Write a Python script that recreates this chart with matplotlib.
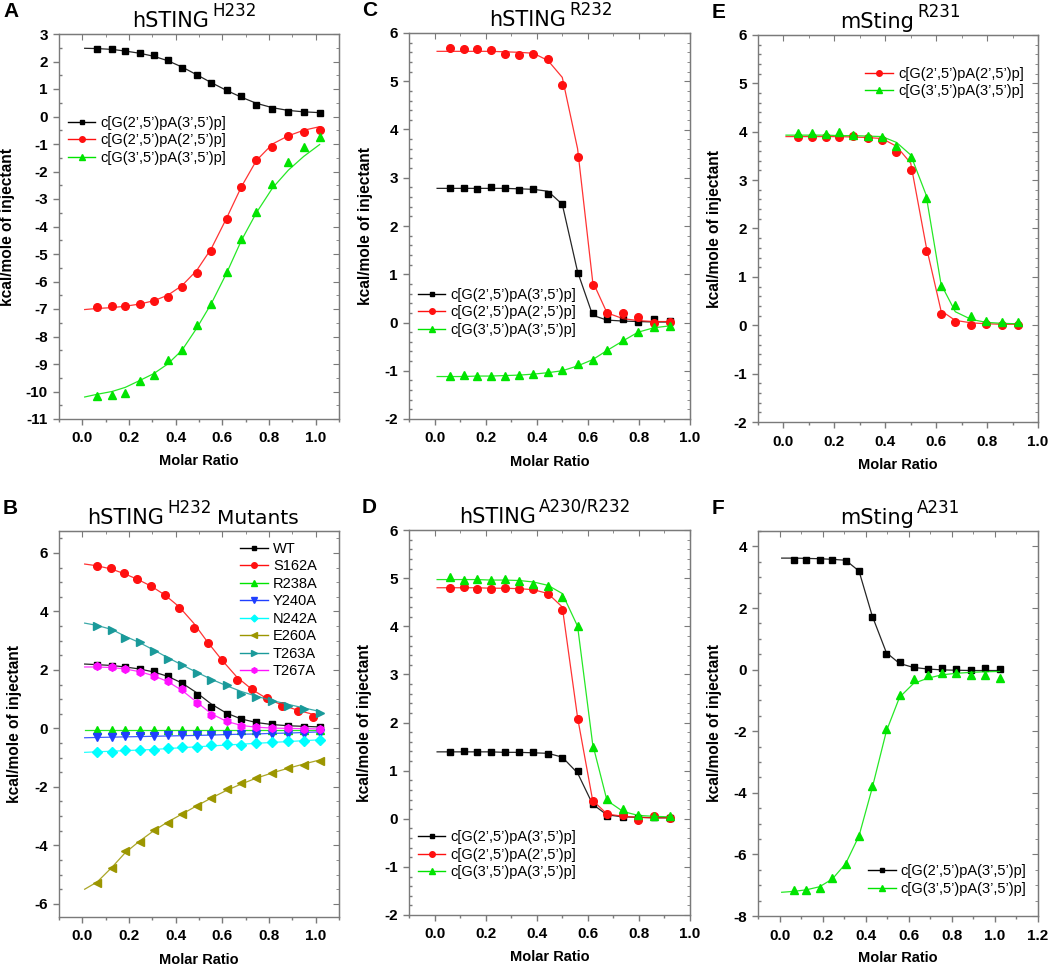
import numpy as np
import matplotlib
matplotlib.use("Agg")
import matplotlib.pyplot as plt
from matplotlib.ticker import MultipleLocator
from matplotlib.transforms import offset_copy

plt.rcParams['font.family'] = ['Liberation Sans', 'DejaVu Sans']
plt.rcParams['axes.unicode_minus'] = False

# ---- panel A : hSTING H232 ----
xa = [0.064, 0.127, 0.184, 0.246, 0.306, 0.366, 0.427, 0.490, 0.553, 0.618,
      0.682, 0.746, 0.815, 0.883, 0.949, 1.017]
xa_fit = [0.01] + xa
a_k = [2.47, 2.45, 2.38, 2.31, 2.22, 2.04, 1.76, 1.51, 1.23, 0.96, 0.73, 0.42, 0.28, 0.16, 0.15, 0.13]
a_r = [-6.93, -6.89, -6.89, -6.82, -6.72, -6.58, -6.20, -5.70, -4.88, -3.73, -2.55, -1.57, -1.10, -0.72, -0.55, -0.50]
a_g = [-10.15, -10.12, -10.05, -9.63, -9.41, -8.87, -8.50, -7.57, -6.82, -5.67, -4.45, -3.46, -2.45, -1.67, -1.12, -0.76]
a_k_fit = [2.48, 2.47, 2.44, 2.38, 2.30, 2.19, 2.03, 1.80, 1.52, 1.23, 0.95, 0.70, 0.48, 0.32, 0.22, 0.17, 0.14]
a_r_fit = [-7.02, -6.98, -6.95, -6.90, -6.82, -6.70, -6.50, -6.15, -5.60, -4.80, -3.70, -2.55, -1.60, -1.00, -0.70, -0.50, -0.37]
a_g_fit = [-10.20, -10.10, -10.00, -9.85, -9.60, -9.35, -9.00, -8.50, -7.70, -6.80, -5.70, -4.50, -3.50, -2.60, -1.95, -1.45, -1.02]

# ---- panel B : hSTING H232 mutants ----
xb = xa
xb_fit = [0.01] + xb
xb_s = [0.064, 0.124, 0.177, 0.236, 0.296, 0.356, 0.416, 0.477, 0.537, 0.600,
        0.663, 0.729, 0.791, 0.856, 0.923, 0.989]
xb_s_fit = [0.01] + xb_s
b_names = ['WT', 'S162A', 'R238A', 'Y240A', 'N242A', 'E260A', 'T263A', 'T267A']
b_wt = [2.16, 2.12, 2.09, 2.04, 1.97, 1.79, 1.55, 1.15, 0.72, 0.49, 0.31, 0.22, 0.16, 0.09, 0.05, 0.05]
b_s162 = [5.54, 5.48, 5.30, 5.11, 4.86, 4.56, 4.13, 3.42, 2.92, 2.34, 1.64, 1.35, 1.03, 0.75, 0.60, 0.40]
b_r238 = [-0.05, -0.06, -0.05, -0.05, -0.05, -0.06, -0.05, -0.06, -0.06, -0.05, -0.06, -0.05, -0.06, -0.05, -0.06, -0.05]
b_y240 = [-0.31, -0.31, -0.27, -0.27, -0.27, -0.24, -0.23, -0.24, -0.22, -0.22, -0.19, -0.19, -0.18, -0.18, -0.18, -0.16]
b_n242 = [-0.80, -0.82, -0.73, -0.75, -0.73, -0.67, -0.63, -0.62, -0.56, -0.54, -0.57, -0.50, -0.48, -0.44, -0.42, -0.39]
b_e260 = [-5.29, -4.78, -4.21, -3.87, -3.47, -3.24, -2.93, -2.64, -2.38, -2.08, -1.87, -1.70, -1.51, -1.36, -1.24, -1.11]
b_t263 = [3.51, 3.38, 3.10, 2.94, 2.65, 2.38, 2.17, 1.89, 1.67, 1.47, 1.19, 1.07, 0.94, 0.75, 0.68, 0.52]
b_t267 = [2.12, 2.10, 2.03, 1.92, 1.78, 1.62, 1.35, 0.87, 0.46, 0.24, 0.09, 0.05, 0.01, 0.00, -0.01, -0.02]
b_wt_fit = [2.20, 2.18, 2.15, 2.10, 2.03, 1.93, 1.78, 1.55, 1.22, 0.83, 0.52, 0.32, 0.20, 0.13, 0.09, 0.07, 0.05]
b_s162_fit = [5.62, 5.56, 5.45, 5.30, 5.10, 4.86, 4.55, 4.15, 3.60, 2.95, 2.32, 1.75, 1.32, 1.02, 0.80, 0.62, 0.48]
b_r238_fit = [-0.06, -0.06, -0.06, -0.06, -0.06, -0.06, -0.06, -0.06, -0.06, -0.06, -0.06, -0.06, -0.06, -0.06, -0.06, -0.06, -0.06]
b_y240_fit = [-0.32, -0.31, -0.30, -0.29, -0.28, -0.27, -0.26, -0.25, -0.24, -0.23, -0.21, -0.20, -0.19, -0.17, -0.16, -0.14, -0.12]
b_n242_fit = [-0.82, -0.80, -0.78, -0.76, -0.74, -0.72, -0.69, -0.66, -0.63, -0.60, -0.57, -0.54, -0.51, -0.48, -0.45, -0.42, -0.39]
b_e260_fit = [-5.50, -5.25, -4.75, -4.25, -3.85, -3.50, -3.20, -2.93, -2.65, -2.38, -2.12, -1.90, -1.70, -1.52, -1.36, -1.22, -1.08]
b_t263_fit = [3.60, 3.52, 3.38, 3.15, 2.93, 2.68, 2.42, 2.17, 1.92, 1.68, 1.46, 1.26, 1.10, 0.95, 0.82, 0.70, 0.58]
b_t267_fit = [2.10, 2.10, 2.08, 2.03, 1.94, 1.80, 1.60, 1.30, 0.90, 0.50, 0.24, 0.10, 0.04, 0.01, 0.00, -0.01, -0.02]

# ---- panels C, D, E : shared molar ratios ----
xc = [0.059, 0.114, 0.166, 0.220, 0.275, 0.332, 0.387, 0.444, 0.500, 0.560,
      0.619, 0.675, 0.738, 0.797, 0.858, 0.920]
xc_fit = [0.01] + xc

c_k = [2.79, 2.79, 2.77, 2.80, 2.79, 2.75, 2.76, 2.66, 2.46, 1.03, 0.20, 0.07, 0.08, 0.01, 0.07, 0.03]
c_r = [5.69, 5.67, 5.66, 5.64, 5.57, 5.54, 5.57, 5.46, 4.93, 3.42, 0.77, 0.19, 0.19, 0.12, -0.01, 0.01]
c_g = [-1.11, -1.09, -1.11, -1.10, -1.10, -1.08, -1.06, -1.03, -0.99, -0.87, -0.78, -0.58, -0.36, -0.19, -0.10, -0.07]
c_k_fit = [2.78, 2.78, 2.78, 2.78, 2.78, 2.78, 2.77, 2.76, 2.72, 2.45, 1.05, 0.15, 0.05, 0.03, 0.02, 0.01, 0.01]
c_r_fit = [5.62, 5.62, 5.62, 5.62, 5.62, 5.61, 5.60, 5.58, 5.43, 5.08, 3.60, 0.85, 0.20, 0.08, 0.04, 0.02, 0.02]
c_g_fit = [-1.12, -1.12, -1.12, -1.11, -1.11, -1.10, -1.09, -1.07, -1.04, -1.00, -0.90, -0.77, -0.58, -0.38, -0.20, -0.11, -0.07]

d_k = [1.39, 1.41, 1.39, 1.38, 1.38, 1.38, 1.38, 1.34, 1.27, 0.99, 0.31, 0.06, 0.03, 0.01, 0.03, 0.01]
d_r = [4.80, 4.81, 4.77, 4.78, 4.79, 4.77, 4.77, 4.67, 4.34, 2.08, 0.36, 0.10, 0.08, -0.02, 0.05, 0.02]
d_g = [5.02, 4.96, 4.99, 4.96, 4.99, 4.93, 4.88, 4.84, 4.60, 4.00, 1.50, 0.42, 0.21, 0.08, 0.06, 0.06]
d_k_fit = [1.39, 1.39, 1.39, 1.39, 1.39, 1.38, 1.38, 1.37, 1.36, 1.28, 0.95, 0.30, 0.08, 0.04, 0.03, 0.02, 0.02]
d_r_fit = [4.80, 4.80, 4.80, 4.80, 4.79, 4.79, 4.78, 4.76, 4.68, 4.40, 2.10, 0.38, 0.10, 0.05, 0.03, 0.02, 0.02]
d_g_fit = [4.97, 4.97, 4.97, 4.97, 4.96, 4.96, 4.95, 4.92, 4.85, 4.68, 4.00, 1.55, 0.38, 0.15, 0.07, 0.05, 0.04]

e_r = [3.90, 3.90, 3.89, 3.90, 3.91, 3.87, 3.82, 3.59, 3.20, 1.53, 0.24, 0.07, 0.00, 0.03, 0.00, 0.00]
e_g = [3.97, 3.98, 3.95, 4.00, 3.93, 3.91, 3.90, 3.71, 3.47, 2.64, 0.82, 0.41, 0.19, 0.09, 0.07, 0.06]
e_r_fit = [3.90, 3.90, 3.90, 3.90, 3.90, 3.89, 3.88, 3.86, 3.70, 3.35, 1.65, 0.30, 0.10, 0.05, 0.03, 0.02, 0.02]
e_g_fit = [3.93, 3.93, 3.93, 3.93, 3.92, 3.92, 3.91, 3.90, 3.78, 3.52, 2.70, 0.85, 0.28, 0.12, 0.06, 0.04, 0.03]

# ---- panel F : mSting A231 ----
xf = [0.067, 0.124, 0.186, 0.245, 0.307, 0.369, 0.430, 0.496, 0.557, 0.622,
      0.688, 0.754, 0.821, 0.887, 0.954, 1.022]
xf_fit = [0.01] + xf
f_k = [3.56, 3.57, 3.55, 3.56, 3.51, 3.19, 1.70, 0.51, 0.24, 0.08, 0.02, 0.04, 0.02, 0.00, 0.04, 0.03]
f_g = [-7.14, -7.16, -7.10, -6.78, -6.30, -5.41, -3.79, -1.94, -0.84, -0.30, -0.16, -0.12, -0.12, -0.17, -0.17, -0.27]
f_k_fit = [3.62, 3.62, 3.61, 3.60, 3.58, 3.55, 3.20, 1.75, 0.55, 0.20, 0.07, 0.02, -0.01, -0.02, -0.03, -0.03, -0.03]
f_g_fit = [-7.23, -7.20, -7.15, -7.05, -6.80, -6.30, -5.40, -3.85, -2.00, -0.90, -0.45, -0.28, -0.17, -0.12, -0.09, -0.07, -0.06]

lig_23_35 = "c[G(2\u2019,5\u2019)pA(3\u2019,5\u2019)p]"
lig_25_25 = "c[G(2\u2019,5\u2019)pA(2\u2019,5\u2019)p]"
lig_35_35 = "c[G(3\u2019,5\u2019)pA(3\u2019,5\u2019)p]"

BLACK = '#000000'
RED = '#ff1010'
GREEN = '#00e400'
FRAME = '#7a7a7a'
TITLE_FONT = ['DejaVu Sans']


def series(ax, x, y, xfit, yfit, color, marker, label, ms=5.5):
    ax.plot(xfit, yfit, '-', color=color, lw=0.9, alpha=0.85)
    ax.plot(x, y, linestyle='none', marker=marker, color=color, ms=ms, mec=color)
    # legend proxy: line + small marker like Origin
    ax.plot([], [], '-', color=color, lw=1.0, marker=marker, ms=ms - 1.5, label=label)


def title(ax, main, sup, xr, after=None, after_x=None):
    # main part ends at xr (axes coords), superscript raised next to it
    ax.text(xr, 1.019, main, transform=ax.transAxes, ha='right', va='baseline',
            fontsize=15, family=TITLE_FONT)
    tr = offset_copy(ax.transAxes, fig=ax.figure, x=3, y=11, units='dots')
    ax.text(xr, 1.019, sup, transform=tr, ha='left', va='baseline',
            fontsize=12, family=TITLE_FONT)
    if after:
        ax.text(after_x, 1.019, after, transform=ax.transAxes, ha='left',
                va='baseline', fontsize=14.5, family=TITLE_FONT)


def style(ax, xlim, ylim, xmaj, ymaj, ymin, letter, letter_x, ylab_x):
    ax.set_xlim(*xlim)
    ax.set_ylim(*ylim)
    for s in ax.spines.values():
        s.set_color(FRAME)
        s.set_linewidth(1.0)
    ax.xaxis.set_major_locator(MultipleLocator(xmaj))
    ax.xaxis.set_minor_locator(MultipleLocator(xmaj / 2))
    ax.yaxis.set_major_locator(MultipleLocator(ymaj))
    ax.yaxis.set_minor_locator(MultipleLocator(ymin))
    ax.tick_params(which='both', color=FRAME, width=1.0)
    ax.tick_params(axis='x', which='major', direction='out', length=4, top=False,
                   labelsize=11, pad=5)
    ax.tick_params(axis='x', which='minor', direction='out', length=2.5, top=False)
    ax.tick_params(axis='y', which='major', direction='out', length=4, right=False,
                   labelsize=11, pad=4)
    ax.tick_params(axis='y', which='minor', direction='in', length=2.5, right=False)
    # inward ticks on the top and right frame
    sec_x = ax.secondary_xaxis('top')
    sec_x.xaxis.set_major_locator(MultipleLocator(xmaj))
    sec_x.xaxis.set_minor_locator(MultipleLocator(xmaj / 2))
    sec_x.tick_params(which='both', direction='in', color=FRAME, labeltop=False)
    sec_x.tick_params(which='major', length=4)
    sec_x.tick_params(which='minor', length=2.5)
    sec_x.spines['top'].set_color(FRAME)
    sec_y = ax.secondary_yaxis('right')
    sec_y.yaxis.set_major_locator(MultipleLocator(ymaj))
    sec_y.yaxis.set_minor_locator(MultipleLocator(ymin))
    sec_y.tick_params(which='both', direction='in', color=FRAME, labelright=False)
    sec_y.tick_params(which='major', length=4)
    sec_y.tick_params(which='minor', length=2.5)
    sec_y.spines['right'].set_color(FRAME)
    for lab in ax.get_xticklabels() + ax.get_yticklabels():
        lab.set_fontweight('bold')
    ax.set_xlabel('Molar Ratio', fontsize=10.5, fontweight='bold')
    ax.xaxis.set_label_coords(0.5, -0.092)
    ax.set_ylabel('kcal/mole of injectant', fontsize=11.2, fontweight='bold')
    ax.yaxis.set_label_coords(ylab_x, 0.5)
    ax.text(letter_x, 1.043, letter, transform=ax.transAxes, fontsize=15,
            fontweight='bold', va='baseline', ha='left')


def legend(ax, **kw):
    leg = ax.legend(frameon=False, fontsize=10.5, handlelength=1.9, handletextpad=0.35,
                    labelspacing=0.24, borderaxespad=0.2, **kw)
    return leg


fig = plt.figure(figsize=(10.5, 9.65), dpi=100)
W, H = 1050, 965


def add_axes(left, top, right, bottom):
    return fig.add_axes([left / W, 1 - bottom / H, (right - left) / W, (bottom - top) / H])


axA = add_axes(59, 34, 339, 419)
axB = add_axes(59, 531, 339, 917)
axC = add_axes(409, 33, 690, 419)
axD = add_axes(409, 530, 690, 915)
axE = add_axes(758, 35, 1038, 422)
axF = add_axes(758, 531, 1038, 916)

# A
series(axA, xa, a_k, xa_fit, a_k_fit, BLACK, 's', lig_23_35, ms=5)
series(axA, xa, a_r, xa_fit, a_r_fit, RED, 'o', lig_25_25)
series(axA, xa, a_g, xa_fit, a_g_fit, GREEN, '^', lig_35_35)
style(axA, (-0.1, 1.1), (-11, 3), 0.2, 1, 0.5, 'A', -0.2, -0.157)
title(axA, 'hSTING', 'H232', 0.536)
legend(axA, loc='upper left', bbox_to_anchor=(0.0, 0.81))

# B
b_colors = ['#000000', '#ff1010', '#00e400', '#1f3fff', '#00ffff', '#9c9600', '#1a9a9a', '#ff10ff']
b_markers = ['s', 'o', '^', 'v', 'D', '<', '>', 'h']
b_data = [b_wt, b_s162, b_r238, b_y240, b_n242, b_e260, b_t263, b_t267]
b_fits = [b_wt_fit, b_s162_fit, b_r238_fit, b_y240_fit, b_n242_fit, b_e260_fit, b_t263_fit, b_t267_fit]
for name, col, mk, yd, yf in zip(b_names, b_colors, b_markers, b_data, b_fits):
    if name == 'S162A':
        xx, xxf = xb_s, xb_s_fit
    else:
        xx, xxf = xb, xb_fit
    series(axB, xx, yd, xxf, yf, col, mk, name, ms=5 if mk in ('s', 'D') else 5.5)
style(axB, (-0.1, 1.1), (-6.45, 6.75), 0.2, 2, 0.5, 'B', -0.2, -0.132)
title(axB, 'hSTING', 'H232', 0.375, after='Mutants', after_x=0.564)
legend(axB, loc='upper right', bbox_to_anchor=(0.955, 0.995))

# C
series(axC, xc, c_k, xc_fit, c_k_fit, BLACK, 's', lig_23_35, ms=5)
series(axC, xc, c_r, xc_fit, c_r_fit, RED, 'o', lig_25_25)
series(axC, xc, c_g, xc_fit, c_g_fit, GREEN, '^', lig_35_35)
style(axC, (-0.1, 1.0), (-2, 6), 0.2, 1, 0.2, 'C', -0.167, -0.128)
title(axC, 'hSTING', 'R232', 0.559)
legend(axC, loc='lower left', bbox_to_anchor=(0.0, 0.19))

# D
series(axD, xc, d_k, xc_fit, d_k_fit, BLACK, 's', lig_23_35, ms=5)
series(axD, xc, d_r, xc_fit, d_r_fit, RED, 'o', lig_25_25)
series(axD, xc, d_g, xc_fit, d_g_fit, GREEN, '^', lig_35_35)
style(axD, (-0.1, 1.0), (-2, 6), 0.2, 1, 0.2, 'D', -0.167, -0.132)
title(axD, 'hSTING', 'A230/R232', 0.452)
legend(axD, loc='lower left', bbox_to_anchor=(0.0, 0.07))

# E
series(axE, xc, e_r, xc_fit, e_r_fit, RED, 'o', lig_25_25)
series(axE, xc, e_g, xc_fit, e_g_fit, GREEN, '^', lig_35_35)
style(axE, (-0.1, 1.0), (-2, 6), 0.2, 1, 0.2, 'E', -0.164, -0.129)
title(axE, 'mSting', 'R231', 0.557)
legend(axE, loc='upper right', bbox_to_anchor=(0.98, 0.94))

# F
series(axF, xf, f_k, xf_fit, f_k_fit, BLACK, 's', lig_23_35, ms=5)
series(axF, xf, f_g, xf_fit, f_g_fit, GREEN, '^', lig_35_35)
style(axF, (-0.1, 1.2), (-8, 4.5), 0.2, 2, 0.5, 'F', -0.164, -0.129)
title(axF, 'mSting', 'A231', 0.557)
legend(axF, loc='lower right', bbox_to_anchor=(0.99, 0.03))

fig.savefig('out.png', dpi=100)
